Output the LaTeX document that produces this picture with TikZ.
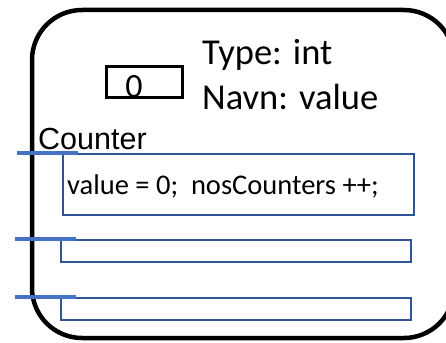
\documentclass[tikz,border=0pt]{standalone}
\usepackage{fontspec}
\setmainfont{Carlito}
\newfontfamily\labelfont{Liberation Sans}
\definecolor{frameblue}{HTML}{2F5597}
\definecolor{tickblue}{HTML}{4472C4}
\begin{document}
\begin{tikzpicture}[x=1pt,y=-1pt,
  outer/.style={draw=black,line width=4.5pt,rounded corners=50pt},
  valbox/.style={draw=black,line width=3pt,inner sep=0pt,minimum width=76pt,minimum height=31pt},
  slot/.style={draw=frameblue,line width=1.8pt,inner sep=0pt,anchor=north west},
  tick/.style={draw=tickblue,line width=4.5pt},
  txt/.style={inner sep=0pt,anchor=base west}]
\useasboundingbox (0,0) rectangle (446,342);
% object frame, its right side running off the page
\draw[outer] (32,10) rectangle (454,338);
% field holding the value
\node[valbox] (val) at (144.5,82) {};
\node[inner sep=0pt,anchor=base,font=\fontsize{34}{34}\selectfont] (zero) at (134,97) {0};
\node[txt,font=\fontsize{36.5}{36.5}\selectfont] (type) at (202,65) {Type: int};
\node[txt,font=\fontsize{36.5}{36.5}\selectfont] (name) at (202,110) {Navn: value};
\node[txt,font=\labelfont\fontsize{30.5}{30.5}\selectfont] (cls) at (38,149) {Counter};
% method slots
\node[slot,minimum width=351pt,minimum height=61pt] (m1) at (62,153) {};
\node[slot,minimum width=350pt,minimum height=22pt] (m2) at (60,239) {};
\node[slot,minimum width=350pt,minimum height=22pt] (m3) at (60,297) {};
\node[txt,font=\fontsize{28.5}{28.5}\selectfont] (body) at (67,194) {value = 0;\ \ nosCounters ++;};
% entry ticks
\draw[tick] ([xshift=-45pt]m1.north west) -- ([xshift=16pt]m1.north west);
\draw[tick] ([xshift=-45pt]m2.north west) -- ([xshift=16pt]m2.north west);
\draw[tick] ([xshift=-45pt]m3.north west) -- ([xshift=16pt]m3.north west);
\end{tikzpicture}
\end{document}
